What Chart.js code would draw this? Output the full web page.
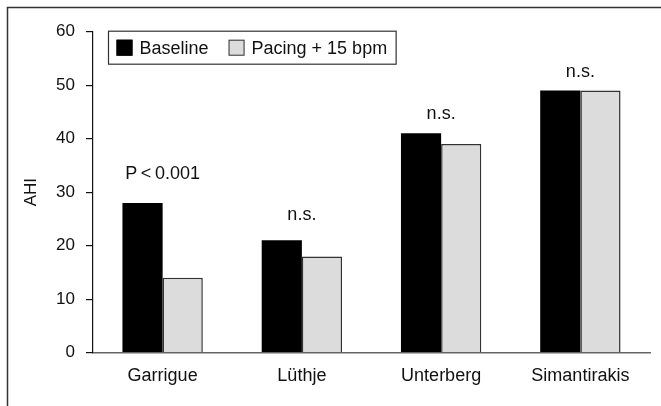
<!DOCTYPE html>
<html>
<head>
<meta charset="utf-8">
<script src="https://cdn.jsdelivr.net/npm/chart.js@4/dist/chart.umd.min.js"></script>
<style>
  html, body { margin: 0; padding: 0; background: #fff; }
  #wrap { width: 661px; height: 406px; position: relative; }
</style>
</head>
<body>
<div id="wrap"><canvas id="c" width="661" height="406"></canvas></div>
<script>
const categories = ['Garrigue', 'Lüthje', 'Unterberg', 'Simantirakis'];
const seriesNames = ['Baseline', 'Pacing + 15 bpm'];
const baseline = [28, 21, 41, 49];
const pacing = [14, 18, 39, 49];
const annotationLabels = ['P\u2009<\u20090.001', 'n.s.', 'n.s.', 'n.s.'];
const annotationLevels = [33.4, 25.7, 44.7, 52.5];
const yTicks = [0, 10, 20, 30, 40, 50, 60];

const FONT = '"Liberation Sans", Arial, Helvetica, sans-serif';

const framePlugin = {
  id: 'frame',
  beforeDraw(chart) {
    const ctx = chart.ctx;
    ctx.save();
    ctx.strokeStyle = '#333';
    ctx.lineWidth = 1.5;
    ctx.beginPath();
    ctx.moveTo(7.5, chart.height);
    ctx.lineTo(7.5, 7.5);
    ctx.lineTo(chart.width, 7.5);
    ctx.stroke();
    ctx.restore();
  }
};

const annotationPlugin = {
  id: 'annots',
  afterDatasetsDraw(chart) {
    const ctx = chart.ctx;
    const xs = chart.scales.x, ys = chart.scales.y;
    ctx.save();
    ctx.fillStyle = '#111';
    ctx.font = '18px ' + FONT;
    ctx.textAlign = 'center';
    ctx.textBaseline = 'middle';
    annotationLabels.forEach((t, i) => {
      ctx.fillText(t, xs.getPixelForValue(i), ys.getPixelForValue(annotationLevels[i]));
    });
    ctx.restore();
  }
};

const legendPlugin = {
  id: 'boxLegend',
  afterDraw(chart) {
    const ctx = chart.ctx;
    const ca = chart.chartArea;
    ctx.save();
    ctx.font = '18px ' + FONT;
    ctx.textBaseline = 'middle';
    const left = ca.left + 15.5, top = ca.top - 0.5, h = 33;
    const pad = 8, padR = 9, box = 16, gap = 7, itemGap = 20;
    let w = pad;
    const ds = chart.data.datasets;
    ds.forEach((d, i) => {
      w += box + gap + ctx.measureText(d.label).width;
      if (i < ds.length - 1) w += itemGap;
    });
    w += padR;
    ctx.strokeStyle = '#333';
    ctx.lineWidth = 1.2;
    ctx.fillStyle = '#fff';
    ctx.fillRect(left, top, w, h);
    ctx.strokeRect(left, top, w, h);
    let x = left + pad;
    const cy = top + h / 2;
    ds.forEach((d, i) => {
      ctx.fillStyle = d.backgroundColor;
      ctx.fillRect(x, cy - box / 2, box, box);
      ctx.strokeStyle = d.borderColor;
      ctx.lineWidth = 1;
      ctx.strokeRect(x + 0.5, cy - box / 2 + 0.5, box - 1, box - 1);
      x += box + gap;
      ctx.fillStyle = '#111';
      ctx.fillText(d.label, x, cy + 1);
      x += ctx.measureText(d.label).width + itemGap;
    });
    ctx.restore();
  }
};

new Chart(document.getElementById('c'), {
  type: 'bar',
  data: {
    labels: categories,
    datasets: [
      { label: seriesNames[0], data: baseline, backgroundColor: '#000', borderColor: '#000', borderWidth: 0 },
      { label: seriesNames[1], data: pacing, backgroundColor: '#dcdcdc', borderColor: '#333', borderWidth: 1.5 }
    ]
  },
  options: {
    responsive: false,
    animation: false,
    devicePixelRatio: 1,
    layout: { padding: { left: 0, top: 31.7, right: 11, bottom: 0 } },
    datasets: { bar: { categoryPercentage: 0.577, barPercentage: 1 } },
    plugins: {
      legend: { display: false },
      tooltip: { enabled: false }
    },
    scales: {
      x: {
        grid: { display: true, drawOnChartArea: false, drawTicks: false },
        border: { display: true, color: '#666', width: 1.5 },
        ticks: { color: '#111', font: { family: FONT, size: 18 }, padding: 13 },
        afterFit(s) { s.height = 53.3; }
      },
      y: {
        min: 0, max: 60,
        afterBuildTicks(s) { s.ticks = yTicks.map(v => ({ value: v })); },
        grid: { display: true, drawOnChartArea: false, drawTicks: true, tickLength: 7, color: '#111', lineWidth: 1.2 },
        border: { display: true, color: '#111', width: 1.2 },
        ticks: { color: '#111', font: { family: FONT, size: 17 }, padding: 11 },
        title: { display: true, text: 'AHI', color: '#111', font: { family: FONT, size: 17 }, padding: { top: 21, bottom: 0 } },
        afterFit(s) { s.width = 93; }
      }
    }
  },
  plugins: [framePlugin, annotationPlugin, legendPlugin]
});
</script>
</body>
</html>
